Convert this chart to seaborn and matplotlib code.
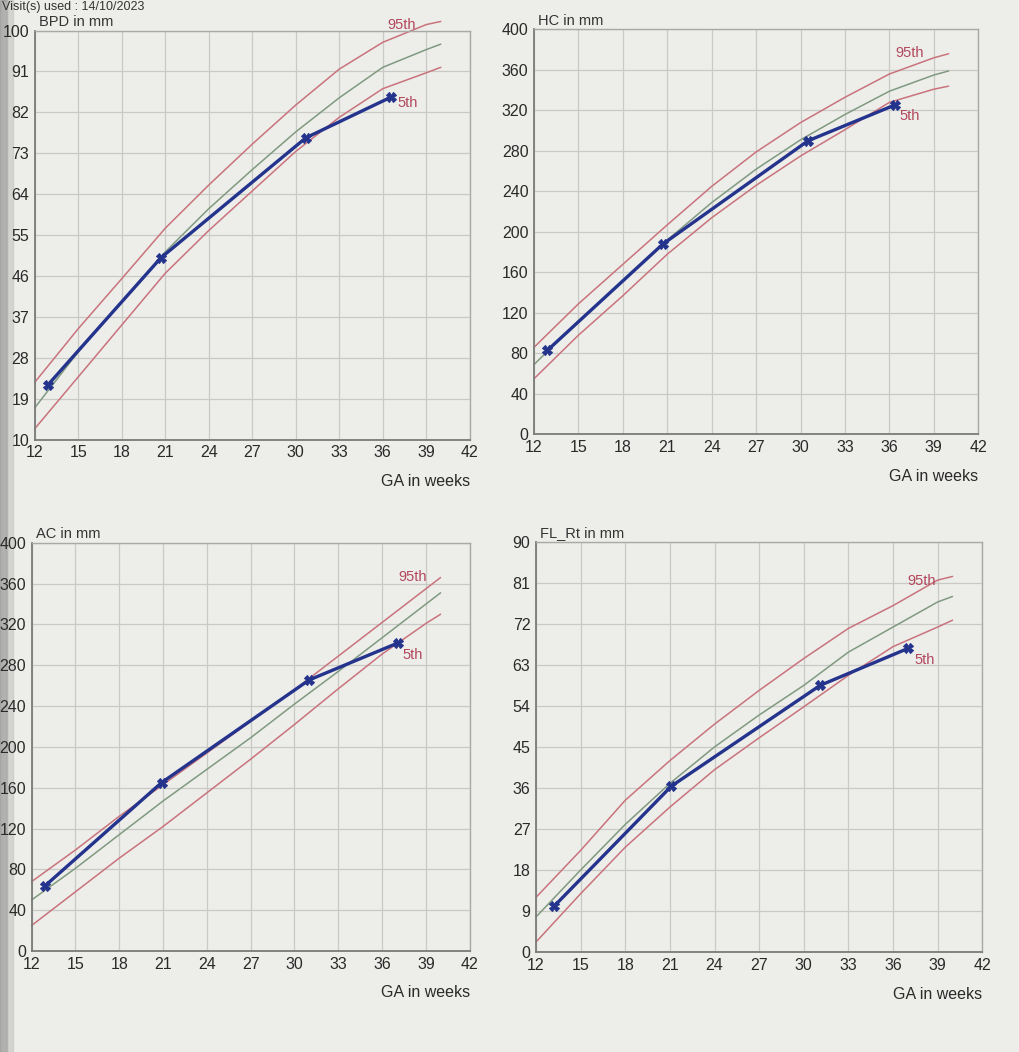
import matplotlib
matplotlib.use("Agg")
import matplotlib.pyplot as plt
import seaborn as sns
import pandas as pd
import numpy as np

# ---------------- data ----------------
ref_weeks = [12, 15, 18, 21, 24, 27, 30, 33, 36, 39, 40]

bpd_p95 = [22.6, 34.4, 45.4, 56.5, 66.0, 75.0, 83.6, 91.5, 97.4, 101.3, 102.0]
bpd_p50 = [17.0, 29.3, 40.3, 51.3, 60.8, 69.4, 77.7, 85.2, 91.9, 95.8, 97.0]
bpd_p5 = [12.4, 23.8, 35.2, 46.6, 56.0, 64.7, 73.4, 80.9, 87.2, 90.7, 91.9]
bpd_weeks = [12.9, 20.7, 30.7, 36.6]
bpd_vals = [22.0, 50.0, 76.4, 85.4]

hc_p95 = [86, 129, 168, 207, 245, 279, 308, 333, 356, 372, 376]
hc_p50 = [69, 112, 151, 192, 229, 262, 291, 316, 339, 355, 359]
hc_p5 = [55, 98, 137, 178, 214, 246, 275, 301, 328, 341, 344]
hc_weeks = [12.9, 20.7, 30.5, 36.4]
hc_vals = [83, 188, 290, 325.6]

ac_p95 = [68, 99, 132, 163, 194, 225, 256, 289, 322, 355, 366]
ac_p50 = [50, 81, 114, 147, 178, 209, 242, 274, 307, 340, 351]
ac_p5 = [25, 58, 91, 122, 155, 188, 222, 257, 291, 321, 330]
ac_weeks = [12.9, 20.9, 31.0, 37.1]
ac_vals = [63.6, 165, 265.6, 302]

fl_p95 = [12.0, 22.3, 33.3, 42.0, 50.0, 57.4, 64.4, 71.0, 76.0, 81.6, 82.4]
fl_p50 = [7.7, 18.0, 28.0, 37.0, 45.0, 52.0, 58.5, 65.8, 71.3, 76.8, 78.0]
fl_p5 = [2.2, 12.8, 23.0, 31.8, 40.0, 47.0, 53.8, 60.7, 67.0, 71.3, 72.8]
fl_weeks = [13.2, 21.1, 31.1, 37.0]
fl_vals = [10.0, 36.4, 58.5, 66.6]

x_ticks = [12, 15, 18, 21, 24, 27, 30, 33, 36, 39, 42]
bpd_ticks = [10, 19, 28, 37, 46, 55, 64, 73, 82, 91, 100]
hc_ticks = [0, 40, 80, 120, 160, 200, 240, 280, 320, 360, 400]
ac_ticks = [0, 40, 80, 120, 160, 200, 240, 280, 320, 360, 400]
fl_ticks = [0, 9, 18, 27, 36, 45, 54, 63, 72, 81, 90]

titles = ["BPD in mm", "HC in mm", "AC in mm", "FL_Rt in mm"]
x_label = "GA in weeks"
header = "Visit(s) used : 14/10/2023"

# label anchor positions (week, value) for "95th" and "5th"
lab95 = [(37.3, 101.2), (37.4, 377), (38.1, 367), (37.9, 81.5)]
lab5 = [(37.7, 84.0), (37.4, 315), (38.1, 290), (38.1, 64.0)]

# ---------------- style ----------------
sns.set_theme(style="white")
plt.rcParams["font.family"] = ["Liberation Sans", "DejaVu Sans"]

BG = "#ededea"
RED = "#c9737c"
GREEN = "#7f9a80"
BLUE = "#24338c"
GRID = "#c9c9c6"
LABRED = "#b2485c"

fig = plt.figure(figsize=(10.19, 10.52), dpi=100, facecolor=BG)

# binding shadow strip on the left edge of the photo (behind everything)
fig.patches.append(plt.Rectangle((0, 0), 0.007, 1, transform=fig.transFigure,
                                 color="#8a8a88", alpha=0.6, zorder=-5))
fig.patches.append(plt.Rectangle((0.007, 0), 0.006, 1, transform=fig.transFigure,
                                 color="#bdbdba", alpha=0.5, zorder=-5))

positions = [
    [0.034, 0.582, 0.427, 0.389],
    [0.524, 0.587, 0.436, 0.385],
    [0.031, 0.096, 0.430, 0.388],
    [0.526, 0.095, 0.438, 0.390],
]

panels = [
    (bpd_p95, bpd_p50, bpd_p5, bpd_weeks, bpd_vals, bpd_ticks),
    (hc_p95, hc_p50, hc_p5, hc_weeks, hc_vals, hc_ticks),
    (ac_p95, ac_p50, ac_p5, ac_weeks, ac_vals, ac_ticks),
    (fl_p95, fl_p50, fl_p5, fl_weeks, fl_vals, fl_ticks),
]

for i, (p95, p50, p5, pw, pv, yt) in enumerate(panels):
    ax = fig.add_axes(positions[i])
    ax.set_facecolor("none")
    ref = pd.DataFrame({"week": ref_weeks, "p95": p95, "p50": p50, "p5": p5})
    pat = pd.DataFrame({"week": pw, "value": pv})

    sns.lineplot(data=ref, x="week", y="p95", ax=ax, color=RED, lw=1.1, clip_on=False)
    sns.lineplot(data=ref, x="week", y="p50", ax=ax, color=GREEN, lw=1.1, clip_on=False)
    sns.lineplot(data=ref, x="week", y="p5", ax=ax, color=RED, lw=1.1, clip_on=False)
    sns.lineplot(data=pat, x="week", y="value", ax=ax, color=BLUE, lw=2.4,
                 marker="X", markersize=7, markeredgecolor=BLUE)

    ax.set_xlim(12, 42)
    ax.set_ylim(yt[0], yt[-1])
    ax.set_xticks(x_ticks)
    ax.set_yticks(yt)
    ax.set_xticklabels([str(t) for t in x_ticks], fontsize=11.5, color="#2a2a2a")
    ax.set_yticklabels([str(t) for t in yt], fontsize=11.5, color="#2a2a2a")
    ax.tick_params(axis="both", length=0, pad=4)
    ax.grid(True, color=GRID, lw=0.9)
    ax.set_axisbelow(True)
    for s in ["left", "bottom"]:
        ax.spines[s].set_color("#7a7a7a")
        ax.spines[s].set_linewidth(1.3)
    for s in ["top", "right"]:
        ax.spines[s].set_color("#a9a9a6")
        ax.spines[s].set_linewidth(1.0)

    ax.set_ylabel("")
    ax.set_xlabel(x_label, loc="right", fontsize=11.5, color="#2a2a2a", labelpad=10)
    ax.text(0.01, 1.004, titles[i], transform=ax.transAxes, ha="left", va="bottom",
            fontsize=10.5, color="#333333")

    ax.text(lab95[i][0], lab95[i][1], "95th", color=LABRED, fontsize=10.5,
            ha="center", va="center")
    ax.text(lab5[i][0], lab5[i][1], "5th", color=LABRED, fontsize=10.5,
            ha="center", va="center")

fig.text(0.002, 0.999, header, ha="left", va="top", fontsize=9, color="#333333")

fig.savefig("out.png", dpi=100, facecolor=BG)
